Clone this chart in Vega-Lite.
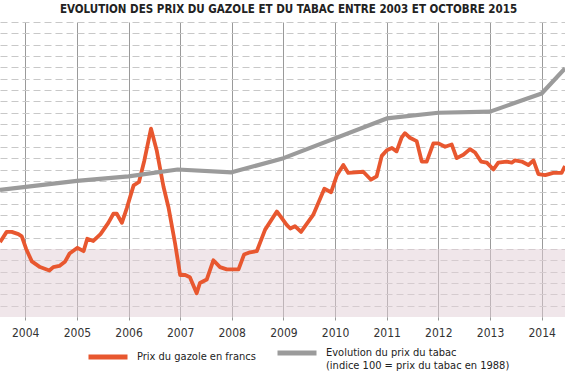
{
  "$schema": "https://vega.github.io/schema/vega-lite/v6.json",
  "width": 565,
  "height": 295,
  "autosize": {"type": "none"},
  "padding": {"left": 0, "right": 0, "top": 22, "bottom": 60},
  "background": "white",
  "config": {
    "font": "DejaVu Sans Condensed, Roboto, sans-serif",
    "view": {"stroke": null},
    "legend": {
      "orient": "none",
      "legendX": 86,
      "legendY": 309,
      "direction": "horizontal",
      "title": null,
      "symbolType": "stroke",
      "symbolSize": 1521,
      "symbolStrokeWidth": 5,
      "labelFontSize": 11,
      "labelColor": "#222",
      "labelFont": "DejaVu Sans Condensed, Roboto, sans-serif",
      "labelLimit": 300,
      "columnPadding": 11,
      "labelOffset": 7
    }
  },
  "title": {
    "text": "EVOLUTION DES PRIX DU GAZOLE ET DU TABAC ENTRE 2003 ET OCTOBRE 2015",
    "fontSize": 11.5,
    "fontWeight": "bold",
    "color": "#222",
    "font": "DejaVu Sans Condensed, Roboto, sans-serif",
    "anchor": "middle",
    "offset": 7,
    "dx": 6
  },
  "datasets": {
    "seuil": [{"prix": 5.0, "bas": 4.4}],
    "gazole": [
      {"date": "2003-07-07", "prix": 5.06},
      {"date": "2003-08-23", "prix": 5.15},
      {"date": "2003-09-28", "prix": 5.15},
      {"date": "2003-11-14", "prix": 5.13},
      {"date": "2003-12-08", "prix": 5.11},
      {"date": "2004-01-08", "prix": 5.00},
      {"date": "2004-02-17", "prix": 4.89},
      {"date": "2004-04-15", "prix": 4.84},
      {"date": "2004-06-20", "prix": 4.81},
      {"date": "2004-07-18", "prix": 4.84},
      {"date": "2004-08-30", "prix": 4.85},
      {"date": "2004-10-10", "prix": 4.89},
      {"date": "2004-11-10", "prix": 4.96},
      {"date": "2005-01-05", "prix": 5.01},
      {"date": "2005-02-17", "prix": 4.98},
      {"date": "2005-03-15", "prix": 5.09},
      {"date": "2005-04-27", "prix": 5.07},
      {"date": "2005-06-17", "prix": 5.13},
      {"date": "2005-08-11", "prix": 5.23},
      {"date": "2005-09-16", "prix": 5.31},
      {"date": "2005-10-10", "prix": 5.31},
      {"date": "2005-11-15", "prix": 5.23},
      {"date": "2005-12-20", "prix": 5.36},
      {"date": "2006-02-06", "prix": 5.56},
      {"date": "2006-03-16", "prix": 5.59},
      {"date": "2006-04-23", "prix": 5.78},
      {"date": "2006-06-09", "prix": 6.06},
      {"date": "2006-07-19", "prix": 5.87},
      {"date": "2006-09-05", "prix": 5.55},
      {"date": "2006-10-10", "prix": 5.37},
      {"date": "2006-11-26", "prix": 5.05},
      {"date": "2007-01-01", "prix": 4.77},
      {"date": "2007-02-06", "prix": 4.77},
      {"date": "2007-03-11", "prix": 4.75},
      {"date": "2007-04-28", "prix": 4.61},
      {"date": "2007-05-21", "prix": 4.70},
      {"date": "2007-07-08", "prix": 4.73},
      {"date": "2007-08-24", "prix": 4.90},
      {"date": "2007-10-10", "prix": 4.84},
      {"date": "2007-11-27", "prix": 4.82},
      {"date": "2008-02-18", "prix": 4.82},
      {"date": "2008-03-28", "prix": 4.95},
      {"date": "2008-05-09", "prix": 4.97},
      {"date": "2008-06-26", "prix": 4.98},
      {"date": "2008-08-24", "prix": 5.17},
      {"date": "2008-11-15", "prix": 5.33},
      {"date": "2009-01-25", "prix": 5.21},
      {"date": "2009-02-18", "prix": 5.18},
      {"date": "2009-03-23", "prix": 5.20},
      {"date": "2009-05-05", "prix": 5.15},
      {"date": "2009-07-30", "prix": 5.30},
      {"date": "2009-10-17", "prix": 5.53},
      {"date": "2009-12-04", "prix": 5.50},
      {"date": "2010-01-14", "prix": 5.65},
      {"date": "2010-02-28", "prix": 5.74},
      {"date": "2010-04-04", "prix": 5.67},
      {"date": "2010-07-19", "prix": 5.68},
      {"date": "2010-09-12", "prix": 5.61},
      {"date": "2010-10-22", "prix": 5.64},
      {"date": "2010-11-27", "prix": 5.82},
      {"date": "2011-01-02", "prix": 5.87},
      {"date": "2011-02-07", "prix": 5.89},
      {"date": "2011-03-12", "prix": 5.86},
      {"date": "2011-04-16", "prix": 5.98},
      {"date": "2011-05-10", "prix": 6.02},
      {"date": "2011-06-14", "prix": 5.98},
      {"date": "2011-08-01", "prix": 5.95},
      {"date": "2011-09-06", "prix": 5.77},
      {"date": "2011-10-11", "prix": 5.77},
      {"date": "2011-11-27", "prix": 5.93},
      {"date": "2012-01-02", "prix": 5.93},
      {"date": "2012-02-18", "prix": 5.90},
      {"date": "2012-04-05", "prix": 5.92},
      {"date": "2012-05-10", "prix": 5.80},
      {"date": "2012-06-26", "prix": 5.83},
      {"date": "2012-08-12", "prix": 5.88},
      {"date": "2012-09-17", "prix": 5.85},
      {"date": "2012-10-29", "prix": 5.77},
      {"date": "2012-12-09", "prix": 5.76},
      {"date": "2013-01-25", "prix": 5.70},
      {"date": "2013-02-28", "prix": 5.76},
      {"date": "2013-04-28", "prix": 5.77},
      {"date": "2013-06-03", "prix": 5.76},
      {"date": "2013-06-26", "prix": 5.78},
      {"date": "2013-08-13", "prix": 5.77},
      {"date": "2013-09-29", "prix": 5.74},
      {"date": "2013-11-04", "prix": 5.78},
      {"date": "2013-12-09", "prix": 5.66},
      {"date": "2014-01-26", "prix": 5.65},
      {"date": "2014-03-24", "prix": 5.67},
      {"date": "2014-05-22", "prix": 5.67},
      {"date": "2014-06-15", "prix": 5.73}
    ],
    "tabac": [
      {"date": "2003-07-07", "indice": 212},
      {"date": "2005-01-01", "indice": 220},
      {"date": "2006-01-01", "indice": 224},
      {"date": "2006-12-15", "indice": 230},
      {"date": "2008-01-01", "indice": 227.5},
      {"date": "2009-01-01", "indice": 240},
      {"date": "2011-01-01", "indice": 275},
      {"date": "2012-01-01", "indice": 280},
      {"date": "2013-01-01", "indice": 281},
      {"date": "2014-01-01", "indice": 297},
      {"date": "2014-06-15", "indice": 319}
    ]
  },
  "resolve": {"scale": {"y": "independent"}, "axis": {"y": "independent"}},
  "layer": [
    {
      "layer": [
        {
          "data": {"name": "seuil"},
          "mark": {"type": "rect", "color": "#e2cdd5", "opacity": 0.5},
          "encoding": {
            "y": {"field": "prix", "type": "quantitative", "scale": {"domain": [4.4, 7.0], "nice": false, "zero": false},
              "axis": {
                "values": [4.5, 4.6, 4.7, 4.8, 4.9, 5.0, 5.1, 5.2, 5.3, 5.4, 5.5, 5.6, 5.7, 5.8, 5.9, 6.0, 6.1, 6.2, 6.3, 6.4, 6.5, 6.6, 6.7, 6.8, 6.9, 7.0],
                "title": null, "labels": false, "ticks": false, "domain": false,
                "grid": true, "gridColor": "#c8c8c8", "gridDash": [7, 4], "gridWidth": 1
              }},
            "y2": {"field": "bas"}
          }
        },
        {
          "data": {"name": "gazole"},
          "mark": {"type": "line", "strokeWidth": 3.8, "clip": true, "strokeJoin": "round"},
          "encoding": {
            "x": {"field": "date", "type": "temporal",
              "scale": {"domain": ["2003-07-07", "2014-06-15"], "nice": false},
              "axis": {
                "title": null, "format": "%Y", "tickCount": {"interval": "year", "step": 1},
                "domain": false, "ticks": true, "tickSize": 3, "tickColor": "#999",
                "grid": true, "gridColor": "#9a9a9a", "gridWidth": 1,
                "labelFontSize": 12, "labelColor": "#333", "labelPadding": 7,
                "labelFont": "DejaVu Sans Condensed, Roboto, sans-serif"
              }},
            "y": {"field": "prix", "type": "quantitative",
              "axis": {
                "values": [4.5, 4.6, 4.7, 4.8, 4.9, 5.0, 5.1, 5.2, 5.3, 5.4, 5.5, 5.6, 5.7, 5.8, 5.9, 6.0, 6.1, 6.2, 6.3, 6.4, 6.5, 6.6, 6.7, 6.8, 6.9, 7.0],
                "title": null, "labels": false, "ticks": false, "domain": false,
                "grid": true, "gridColor": "#c8c8c8", "gridDash": [7, 4], "gridWidth": 1
              }},
            "color": {"datum": "Prix du gazole en francs", "type": "nominal",
              "scale": {"domain": ["Prix du gazole en francs", "Evolution du prix du tabac"], "range": ["#e8572f", "#9b9b9b"]},
              "legend": {
                "labelExpr": "datum.label == 'Evolution du prix du tabac' ? ['Evolution du prix du tabac', '(indice 100 = prix du tabac en 1988)'] : datum.label"
              }}
          }
        }
      ]
    },
    {
      "data": {"name": "tabac"},
      "mark": {"type": "line", "strokeWidth": 4.2, "clip": true, "strokeJoin": "round"},
      "encoding": {
        "x": {"field": "date", "type": "temporal"},
        "y": {"field": "indice", "type": "quantitative", "scale": {"domain": [100, 360], "nice": false, "zero": false}, "axis": null},
        "color": {"datum": "Evolution du prix du tabac", "type": "nominal"}
      }
    }
  ]
}
